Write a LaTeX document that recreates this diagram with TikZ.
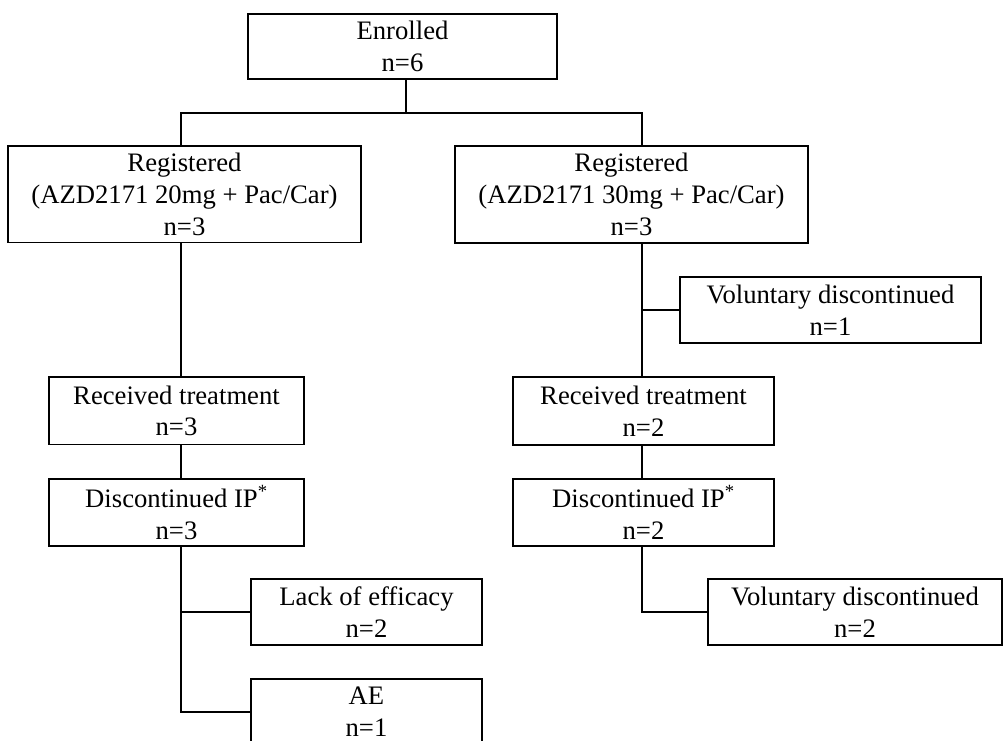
\documentclass[tikz,border=0pt]{standalone}
\usepackage{fontspec}
\setmainfont{Liberation Serif}
\begin{document}
\begin{tikzpicture}[x=0.75pt,y=-0.75pt,
  box/.style={draw=black, line width=1.35pt, rectangle, inner sep=0pt, align=center,
    font=\fontsize{20}{23.8}\selectfont},
  link/.style={draw=black, line width=1.35pt, line join=miter}]
\useasboundingbox (0,0) rectangle (1003,740);
\fill[white] (0,0) rectangle (1003,740);
% boxes
\node[box, minimum width=231.75pt, minimum height=48.75pt] (enr) at (402.5,46.5) {Enrolled\\n=6};
\node[box, minimum width=264.75pt, minimum height=72.4pt] (reg1) at (184.5,194.25) {Registered\\(AZD2171 20mg + Pac/Car)\\n=3};
\node[box, minimum width=264.75pt, minimum height=72.75pt] (reg2) at (631.5,194.5) {Registered\\(AZD2171 30mg + Pac/Car)\\n=3};
\node[box, minimum width=191.25pt, minimum height=50.6pt] (rt1) at (176.5,410.75) {Received treatment\\n=3};
\node[box, minimum width=191.25pt, minimum height=50pt] (di1) at (176.5,512.35) {Discontinued IP\textsuperscript{*}\\n=3};
\node[box, minimum width=173.25pt, minimum height=49.5pt] (lack) at (366.5,612) {Lack of efficacy\\n=2};
\node[box, minimum width=173.25pt, minimum height=49.5pt] (ae) at (366.5,712) {AE\\n=1};
\node[box, minimum width=225.75pt, minimum height=49.5pt] (vd1) at (830.5,310) {Voluntary discontinued\\n=1};
\node[box, minimum width=195.75pt, minimum height=51pt] (rt2) at (643.5,411) {Received treatment\\n=2};
\node[box, minimum width=195.75pt, minimum height=50.25pt] (di2) at (643.5,512.5) {Discontinued IP\textsuperscript{*}\\n=2};
\node[box, minimum width=220.5pt, minimum height=49.5pt] (vd2) at (855,612) {Voluntary discontinued\\n=2};
% junctions
\coordinate (jt) at (406,112.7);
\coordinate (jl) at (181,112.7);
\coordinate (jr) at (642,112.7);
% connectors
\draw[link] (enr.south -| jt) -- (jt);
\draw[link] (jl |- reg1.north) -- (jl) -- (jr) -- (jr |- reg2.north);
\draw[link] (reg1.south -| jl) -- (rt1.north -| jl);
\draw[link] (rt1.south -| jl) -- (di1.north -| jl);
\draw[link] (di1.south -| jl) -- (jl |- ae.west) -- (ae.west);
\draw[link] (jl |- lack.west) -- (lack.west);
\draw[link] (reg2.south -| jr) -- (rt2.north -| jr);
\draw[link] (jr |- vd1.west) -- (vd1.west);
\draw[link] (rt2.south -| jr) -- (di2.north -| jr);
\draw[link] (di2.south -| jr) -- (jr |- vd2.west) -- (vd2.west);
\end{tikzpicture}
\end{document}
